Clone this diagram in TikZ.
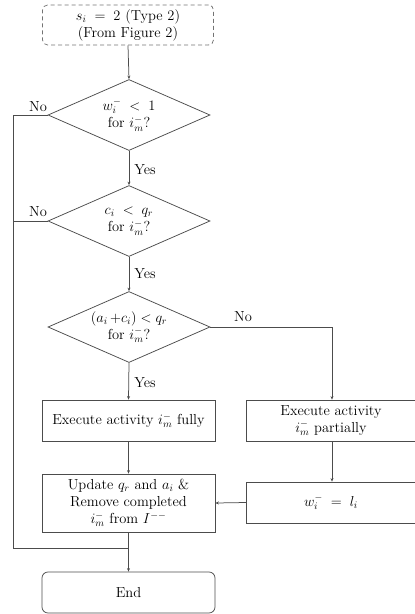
\documentclass[tikz,border=0pt]{standalone}
\usetikzlibrary{shapes.geometric,arrows.meta}
\begin{document}
\begin{tikzpicture}[x=1pt,y=-1pt,
  every node/.style={font=\fontsize{14.5}{17}\selectfont, text=black},
  line/.style={draw=black!70, line width=0.75pt},
  arr/.style={line, -{Stealth[length=3.5pt,width=3pt]}},
  box/.style={line, rectangle, inner sep=0pt, align=center},
  dia/.style={line, diamond, inner sep=0pt, minimum width=162pt, minimum height=71pt},
  dtext/.style={inner sep=0pt, align=center},
  lbl/.style={inner sep=0pt}
]
\useasboundingbox (0,0) rectangle (415,614);
\node[box, draw=black!55, dash pattern=on 4pt off 3pt, rounded corners=5pt, minimum width=171pt, minimum height=40pt] (start) at (128,25)
  {$s_i \;=\; 2$ (Type 2)\\(From Figure 2)};
\node[dia] (d1) at (129,115) {};
\node[dtext] (t1) at (d1.center) {$w_i^- \;<\; 1$\\for $i_m^-$?};
\node[dia] (d2) at (129,221) {};
\node[dtext] (t2) at (d2.center) {$c_i \;<\; q_r$\\for $i_m^-$?};
\node[dia] (d3) at (129,327) {};
\node[dtext] (t3) at (d3.center) {$(a_i\,{+}c_i) < q_r$\\for $i_m^-$?};
\node[box, minimum width=173pt, minimum height=41pt] (full) at (128.5,420.5) {Execute activity $i_m^-$ fully};
\node[box, minimum width=169pt, minimum height=41pt] (part) at (331,420.5) {Execute activity\\$i_m^-$ partially};
\node[box, minimum width=173pt, minimum height=58pt] (upd) at (128.5,503) {Update $q_r$ and $a_i$ \&\\Remove completed\\$i_m^-$ from $I^{--}$};
\node[box, minimum width=169pt, minimum height=41pt] (wb) at (331,502.5) {$w_i^- \;=\; l_i$};
\node[box, rounded corners=6pt, minimum width=173pt, minimum height=41pt] (end) at (128.5,592.5) {End};
\coordinate (j) at (128.5,548);
\coordinate (l1) at (13,115);
\coordinate (lb) at (13,548);
\coordinate (r3) at (332,327);

\draw[arr] (start.south) -- (d1.north);
\draw[arr] (d1.south) -- (d2.north);
\draw[arr] (d2.south) -- (d3.north);
\draw[arr] (d3.south) -- (full.north);
\draw[arr] (full.south) -- (upd.north);
\draw[arr] (d3.east) -- (r3) -- (part.north -| r3);
\draw[arr] (part.south -| r3) -- (wb.north -| r3);
\draw[arr] (wb.west) -- (upd.east);
\draw[line] (d1.west) -- (l1) -- (lb) -- (j);
\draw[line] (d2.west) -- (d2.west -| l1);
\draw[line] (upd.south) -- (j);
\draw[arr] (j) -- (end.north);

\node[lbl] at (38,107) {No};
\node[lbl] at (38,212) {No};
\node[lbl] at (243,317) {No};
\node[lbl] at (145,170) {Yes};
\node[lbl] at (145,274) {Yes};
\node[lbl] at (145,383) {Yes};
\end{tikzpicture}
\end{document}
